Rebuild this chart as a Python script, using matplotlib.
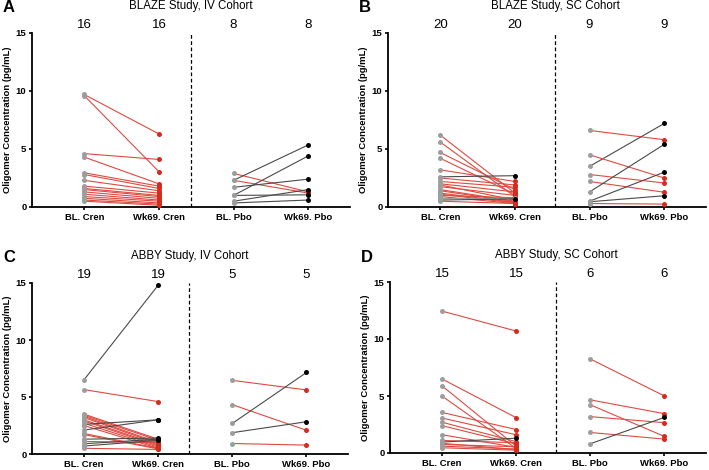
import matplotlib
matplotlib.use("Agg")
import matplotlib.pyplot as plt

plt.rcParams['font.family'] = ['Liberation Sans', 'DejaVu Sans']

categories = ["BL. Cren", "Wk69. Cren", "BL. Pbo", "Wk69. Pbo"]
panel_letters = ["A", "B", "C", "D"]
titles = ["BLAZE Study, IV Cohort", "BLAZE Study, SC Cohort",
          "ABBY Study, IV Cohort", "ABBY Study, SC Cohort"]

# BLAZE IV
a_cren_bl = [9.7, 9.6, 4.6, 4.3, 2.95, 2.8, 2.3, 1.8, 1.6, 1.5, 1.3, 1.1, 0.9, 0.75, 0.6, 0.5]
a_cren_wk = [6.3, 3.05, 4.1, 2.0, 1.8, 1.6, 1.4, 1.2, 1.0, 0.9, 0.75, 0.6, 0.5, 0.35, 0.25, 0.15]
a_pbo_bl = [2.9, 2.3, 2.3, 1.0, 1.7, 0.5, 1.0, 0.35]
a_pbo_wk = [1.3, 1.2, 5.35, 4.4, 2.4, 1.5, 1.05, 0.6]

# BLAZE SC
b_cren_bl = [6.2, 5.6, 4.7, 4.2, 3.2, 2.6, 2.5, 2.2, 2.0, 1.9,
             1.75, 1.5, 1.4, 1.2, 1.1, 1.0, 0.9, 0.8, 0.6, 0.5]
b_cren_wk = [1.2, 0.9, 1.5, 1.1, 2.2, 2.7, 1.9, 1.7, 1.3, 0.6,
             1.0, 0.5, 0.45, 0.4, 0.35, 0.8, 0.3, 0.8, 0.7, 0.3]
b_pbo_bl = [6.6, 3.5, 4.5, 2.8, 2.2, 1.3, 0.5, 0.45, 0.3]
b_pbo_wk = [5.8, 7.2, 2.5, 2.07, 1.27, 5.4, 3.0, 0.97, 0.25]

# ABBY IV
c_cren_bl = [6.5, 5.65, 3.5, 3.4, 3.3, 3.2, 3.0, 2.9, 2.7, 2.6,
             2.5, 2.1, 1.8, 1.7, 1.3, 1.1, 0.9, 0.7, 0.5]
c_cren_wk = [14.8, 4.6, 1.3, 1.2, 1.0, 0.9, 0.8, 0.7, 0.6, 3.0,
             0.5, 3.0, 0.5, 0.45, 1.4, 1.0, 1.3, 1.2, 0.4]
c_pbo_bl = [6.46, 4.33, 2.68, 1.87, 0.92]
c_pbo_wk = [5.62, 2.08, 7.15, 2.83, 0.78]

# ABBY SC
d_cren_bl = [12.45, 6.5, 5.9, 5.0, 3.56, 3.07, 2.7, 2.4, 1.6, 1.1,
             0.96, 0.85, 0.75, 0.6, 0.46]
d_cren_wk = [10.7, 3.1, 0.6, 0.4, 2.06, 1.6, 1.0, 0.8, 0.5, 0.9,
             1.3, 0.3, 0.55, 0.35, 0.25]
d_pbo_bl = [8.25, 4.66, 4.23, 3.19, 1.8, 0.81]
d_pbo_wk = [5.0, 3.45, 1.45, 2.66, 1.22, 3.13]

panels = [
    (a_cren_bl, a_cren_wk, a_pbo_bl, a_pbo_wk),
    (b_cren_bl, b_cren_wk, b_pbo_bl, b_pbo_wk),
    (c_cren_bl, c_cren_wk, c_pbo_bl, c_pbo_wk),
    (d_cren_bl, d_cren_wk, d_pbo_bl, d_pbo_wk),
]

W, H = 709, 470
# left, top, width, height in pixels (from the top-left corner)
boxes = [(32, 33, 318, 174), (388, 33, 318, 174),
         (32, 283, 316, 171), (390, 282, 316, 171)]
dash_x = [2.43, 2.54, 2.42, 2.54]

RED_PT = "#d52b1e"
RED_LN = "#df4a40"
DARK_LN = "#4a4a4a"
GREY = "#9d9d9d"

fig = plt.figure(figsize=(W / 100, H / 100), dpi=100)

for i, (cbl, cwk, pbl, pwk) in enumerate(panels):
    l, t, w, h = boxes[i]
    ax = fig.add_axes([l / W, (H - t - h) / H, w / W, h / H])
    for x0, bl, wk in ((1, cbl, cwk), (3, pbl, pwk)):
        for b, v in zip(bl, wk):
            if v > b:
                lc, pc = DARK_LN, "black"
            elif v < b:
                lc, pc = RED_LN, RED_PT
            else:
                lc, pc = GREY, GREY
            ax.plot([x0, x0 + 1], [b, v], color=lc, lw=0.8, zorder=2, clip_on=False)
            ax.plot(x0 + 1, v, "o", color=pc, ms=3.6, mec="none", zorder=4, clip_on=False)
        ax.plot([x0] * len(bl), bl, "o", color=GREY, ms=3.6, mec="none", zorder=3, clip_on=False)
        for xx in (x0, x0 + 1):
            ax.annotate(str(len(bl)), xy=(xx, 1), xycoords=("data", "axes fraction"),
                        xytext=(0, 6), textcoords="offset points", ha="center",
                        va="center", fontsize=9.5)

    ax.axvline(dash_x[i], color="black", lw=0.9, ls=(0, (3, 2)), zorder=1)
    ax.annotate(titles[i], xy=(dash_x[i], 1), xycoords=("data", "axes fraction"),
                xytext=(0, 19.5), textcoords="offset points", ha="center",
                va="center", fontsize=8.3)

    ax.set_xlim(0.3, 4.56)
    ax.set_ylim(0, 15)
    ax.set_yticks([0, 5, 10, 15])
    ax.set_xticks([1, 2, 3, 4])
    ax.set_xticklabels(categories)
    for s in ("top", "right"):
        ax.spines[s].set_visible(False)
    for s in ("left", "bottom"):
        ax.spines[s].set_linewidth(1.3)
    ax.tick_params(axis="both", labelsize=6.8, width=1.2, length=2.5, pad=1.5)
    for lab in ax.get_xticklabels() + ax.get_yticklabels():
        lab.set_fontweight("bold")
    ax.set_ylabel("Oligomer Concentration (pg/mL)", fontsize=6.8, fontweight="bold")
    ax.yaxis.set_label_coords(-0.063, 0.5)

    fig.text((l - 29) / W, 1 - (t - 25) / H, panel_letters[i], fontsize=12,
             fontweight="bold", ha="left", va="center")

fig.savefig("out.png", dpi=100)
